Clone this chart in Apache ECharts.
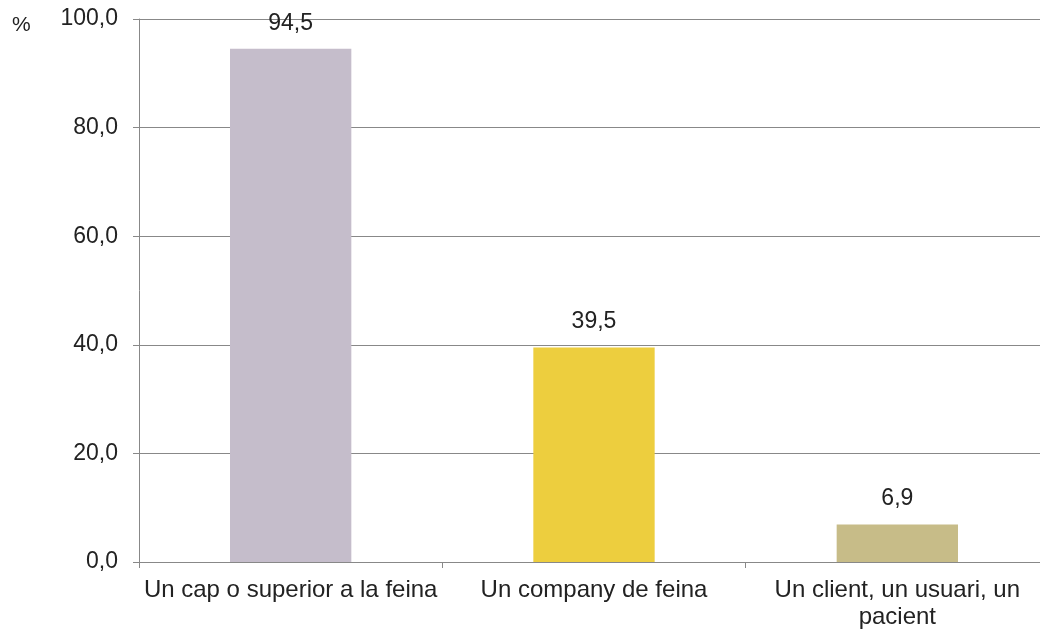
<!DOCTYPE html>
<html><head><meta charset="utf-8">
<script src="https://cdn.jsdelivr.net/npm/echarts@6/dist/echarts.min.js"></script>
<style>html,body{margin:0;padding:0;background:#fff}#c{width:1040px;height:629px}</style>
</head><body><div id="c"></div>
<script>
const categories = ["Un cap o superior a la feina", "Un company de feina", "Un client, un usuari, un\npacient"];
const values = [94.5, 39.5, 6.9];
const colors = ["#C5BDCB", "#EDCE3E", "#C7BC88"];
const yTicks = { min: 0, max: 100, interval: 20 };
const fmt = v => v.toFixed(1).replace('.', ',');

const FS = 23;
const chart = echarts.init(document.getElementById('c'), null, {renderer: 'canvas'});
chart.setOption({
  animation: false,
  textStyle: { fontFamily: 'Liberation Sans, Arial, sans-serif' },
  graphic: [{ type: 'text', left: 12, top: 15, style: { text: '%', fontSize: 21, fill: '#222', fontFamily: 'Liberation Sans' } }],
  grid: { left: 139, width: 910, top: 19, bottom: 67, containLabel: false, outerBoundsMode: 'none' },
  xAxis: {
    type: 'category', data: categories,
    axisLine: { lineStyle: { color: '#888', width: 1 } },
    axisTick: { show: true, alignWithLabel: false, length: 6, lineStyle: { color: '#888' } },
    axisLabel: { color: '#222', fontSize: 24, margin: 15, interval: 0, lineHeight: 27, fontFamily: 'Liberation Sans' }
  },
  yAxis: {
    type: 'value', min: yTicks.min, max: yTicks.max, interval: yTicks.interval,
    axisLine: { show: true, lineStyle: { color: '#888', width: 1 } },
    axisTick: { show: true, length: 6, lineStyle: { color: '#888' } },
    splitLine: { lineStyle: { color: '#888', width: 1 } },
    axisLabel: { color: '#222', fontSize: FS, margin: 21, padding: [3, 0, 0, 0], formatter: v => fmt(v), fontFamily: 'Liberation Sans' }
  },
  series: [{
    type: 'bar', barWidth: '40%',
    data: values.map((v, i) => ({ value: v, itemStyle: { color: colors[i] } })),
    label: { show: true, position: 'top', distance: 14, color: '#222', fontSize: FS, formatter: p => fmt(p.value), fontFamily: 'Liberation Sans' }
  }]
});
</script></body></html>
